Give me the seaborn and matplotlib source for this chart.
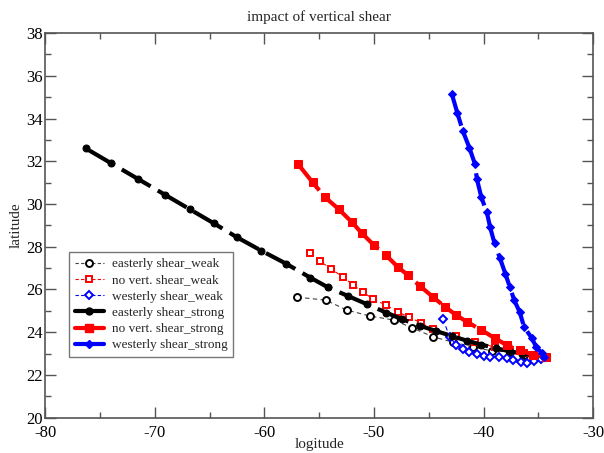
import matplotlib
matplotlib.use("Agg")
import matplotlib.pyplot as plt
from matplotlib.lines import Line2D
from matplotlib.ticker import MultipleLocator
import seaborn as sns
import pandas as pd

# storm tracks (longitude, latitude) for each shear experiment
east_weak_lon = [-57.0, -54.4, -52.5, -50.4, -48.2, -46.5, -44.6, -42.8, -41.0, -39.2, -37.6, -36.3, -34.5]
east_weak_lat = [25.64, 25.50, 25.04, 24.76, 24.57, 24.20, 23.78, 23.54, 23.31, 23.12, 23.08, 22.94, 22.85]

novert_weak_lon = [-55.8, -54.9, -53.9, -52.8, -51.9, -51.0, -50.1, -48.9, -47.8, -46.8, -45.7, -44.6,
                   -42.5, -40.8, -39.0, -37.6, -36.3, -34.3]
novert_weak_lat = [27.70, 27.32, 26.95, 26.58, 26.20, 25.88, 25.55, 25.27, 24.94, 24.71, 24.43, 24.15,
                   23.82, 23.54, 23.31, 23.17, 23.03, 22.85]

west_weak_lon = [-43.7, -43.1, -42.5, -41.9, -41.3, -40.6, -40.0, -39.4, -38.6, -37.9, -37.3, -36.6,
                 -36.0, -35.4, -34.8, -34.45]
west_weak_lat = [24.62, 23.78, 23.40, 23.22, 23.08, 22.99, 22.89, 22.85, 22.85, 22.80, 22.71, 22.61,
                 22.57, 22.66, 22.75, 22.85]

east_strong_lon = [-76.3, -74.0, -71.5, -69.1, -66.8, -64.6, -62.5, -60.3, -58.0, -55.8, -54.2, -52.4,
                   -50.6, -48.9, -47.4, -45.8, -44.3, -42.9, -41.5, -40.2, -38.9, -37.7, -36.5, -35.4, -34.5]
east_strong_lat = [32.60, 31.91, 31.16, 30.44, 29.75, 29.09, 28.44, 27.82, 27.20, 26.55, 26.10, 25.70,
                   25.30, 24.92, 24.60, 24.30, 24.05, 23.82, 23.60, 23.42, 23.25, 23.12, 23.00, 22.93, 22.90]

novert_strong_lon = [-56.9, -55.6, -54.45, -53.2, -52.0, -51.1, -50.0, -48.9, -47.8, -46.9, -45.8, -44.6,
                     -43.5, -42.5, -41.5, -40.2, -39.0, -37.9, -36.7, -35.5, -34.3]
novert_strong_lat = [31.85, 31.01, 30.31, 29.75, 29.14, 28.63, 28.07, 27.60, 27.04, 26.67, 26.16, 25.64,
                     25.18, 24.80, 24.48, 24.10, 23.73, 23.40, 23.17, 22.94, 22.85]

west_strong_lon = [-42.9, -42.4, -41.9, -41.3, -40.8, -40.6, -40.2, -39.7, -39.4, -39.0, -38.5, -38.0,
                   -37.6, -37.2, -36.7, -36.3, -35.6, -35.2, -34.7, -34.45]
west_strong_lat = [35.16, 34.27, 33.43, 32.64, 31.89, 31.15, 30.31, 29.61, 28.91, 28.16, 27.46, 26.72,
                   26.11, 25.50, 24.94, 24.24, 23.73, 23.31, 23.03, 22.85]

labels = ["easterly shear_weak", "no vert. shear_weak", "westerly shear_weak",
          "easterly shear_strong", "no vert. shear_strong", "westerly shear_strong"]

sns.set_theme(style="white")
plt.rcParams["font.family"] = ["Liberation Serif", "DejaVu Serif"]
plt.rcParams["axes.unicode_minus"] = False

fig = plt.figure(figsize=(6.04, 4.53), dpi=100)
ax = fig.add_axes([0.075, 0.078, 0.907, 0.849])

weak = [
    (east_weak_lon, east_weak_lat, "black", "o", "#444444", 5),
    (novert_weak_lon, novert_weak_lat, "red", "s", "red", 5),
    (west_weak_lon, west_weak_lat, "blue", "D", "blue", 4.5),
]
strong = [
    (east_strong_lon, east_strong_lat, "black", "o", 5),
    (novert_strong_lon, novert_strong_lat, "red", "s", 6),
    (west_strong_lon, west_strong_lat, "blue", "D", 4.5),
]

handles = []
for (lon, lat, col, mk, lcol, ms), lab in zip(weak, labels[:3]):
    df = pd.DataFrame({"lon": lon, "lat": lat})
    sns.lineplot(data=df, x="lon", y="lat", sort=False, estimator=None, ax=ax,
                 color=lcol, linewidth=0.8, linestyle=(0, (4, 3)),
                 marker=mk, markersize=ms,
                 markerfacecolor="white", markeredgecolor=col, markeredgewidth=1.4)
    handles.append(Line2D([], [], color=lcol, linewidth=0.8, linestyle=(0, (3, 2)),
                          marker=mk, markersize=ms, markerfacecolor="white",
                          markeredgecolor=col, markeredgewidth=1.4, label=lab))

for (lon, lat, col, mk, ms), lab in zip(strong, labels[3:]):
    df = pd.DataFrame({"lon": lon, "lat": lat})
    sns.lineplot(data=df, x="lon", y="lat", sort=False, estimator=None, ax=ax,
                 color=col, linewidth=3.0, linestyle=(0, (8, 2)),
                 marker=mk, markersize=ms, markerfacecolor=col, markeredgecolor=col)
    handles.append(Line2D([], [], color=col, linewidth=3.0, marker=mk, markersize=ms,
                          markerfacecolor=col, markeredgecolor=col, label=lab))

ax.set_xlim(-80, -30)
ax.set_ylim(20, 38)
ax.xaxis.set_major_locator(MultipleLocator(10))
ax.xaxis.set_minor_locator(MultipleLocator(5))
ax.yaxis.set_major_locator(MultipleLocator(2))
ax.yaxis.set_minor_locator(MultipleLocator(1))
ax.tick_params(which="both", direction="in", top=True, right=True, bottom=True, left=True,
               color="#555555", labelsize=12, labelcolor="black")
ax.tick_params(which="major", length=8, width=1)
ax.tick_params(which="minor", length=4, width=1)
ax.tick_params(axis="x", pad=5)
ax.tick_params(axis="y", pad=2)
for s in ax.spines.values():
    s.set_color("#555555")
    s.set_linewidth(1.2)

ax.set_xlabel("logitude", fontsize=11, labelpad=-2)
ax.set_ylabel("latitude", fontsize=11, labelpad=2)
ax.set_title("impact of vertical shear", fontsize=11, pad=9)

leg = ax.legend(handles=handles, loc="upper left", bbox_to_anchor=(0.043, 0.43),
                fontsize=9.5, frameon=True, fancybox=False, edgecolor="#555555",
                handlelength=2.2, handletextpad=0.6, borderpad=0.45, labelspacing=0.3,
                borderaxespad=0)
leg.get_frame().set_linewidth(1.0)

fig.savefig("out.png", dpi=100)
